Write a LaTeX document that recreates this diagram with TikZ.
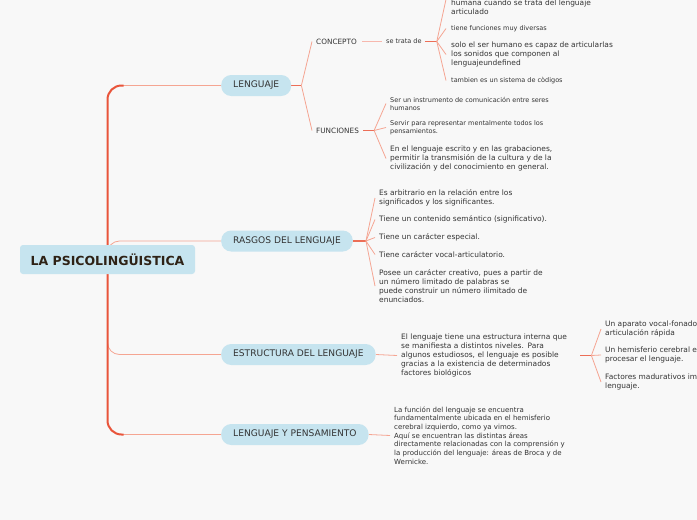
\documentclass[tikz,border=0pt]{standalone}
\usepackage{fontspec}
\setmainfont{DejaVu Sans}
\usetikzlibrary{calc,backgrounds}
\definecolor{bg}{HTML}{F8F8F8}
\definecolor{pill}{HTML}{C6E4EF}
\definecolor{trunkc}{HTML}{E9553B}
\definecolor{branchc}{HTML}{F5A592}
\definecolor{paleline}{HTML}{F7B8AE}
\definecolor{forkc}{HTML}{EC6E57}
\definecolor{txt}{HTML}{333333}
\definecolor{roottxt}{HTML}{2E2216}
\begin{document}
\begin{tikzpicture}[x=1pt,y=-1pt,
 rootbox/.style={fill=pill, rounded corners=3pt, minimum width=175pt, minimum height=29pt, inner sep=0pt, text=roottxt, font=\fontsize{12.5}{14}\selectfont\bfseries},
 mainbox/.style={fill=pill, rounded corners=10pt, minimum height=21pt, inner xsep=12pt, inner ysep=0pt, anchor=west, text=txt, font=\fontsize{9.1}{10}\selectfont},
 lbl/.style={anchor=west, inner sep=0pt, text=txt, align=left, font=\fontsize{7.45}{9}\selectfont},
 small/.style={anchor=west, inner sep=0pt, text=txt, align=left, font=\fontsize{6.5}{8}\selectfont},
 tlink/.style={draw=trunkc, line width=2pt},
 blink/.style={draw=branchc, line width=0.8pt},
 plink/.style={draw=paleline, line width=1.2pt},
 flink/.style={draw=forkc, line width=1.6pt},
 ]
\useasboundingbox (0,0) rectangle (697,520);

% main nodes
\node[rootbox] (root) at (107.5,259.5) {LA PSICOLINGÜISTICA};
\node[mainbox] (len) at (221,85.5) {LENGUAJE};
\node[mainbox] (ras) at (221,241) {RASGOS DEL LENGUAJE};
\node[mainbox] (est) at (221,354.5) {ESTRUCTURA DEL LENGUAJE};
\node[mainbox] (lyp) at (221,434.5) {LENGUAJE Y PENSAMIENTO};

% LENGUAJE subtree
\node[lbl, font=\fontsize{7.3}{9}\selectfont] (concepto) at (316,41.5) {CONCEPTO};
\node[lbl, font=\fontsize{7.3}{9}\selectfont] (funciones) at (316,130.5) {FUNCIONES};
\node[small] (setrata) at (386,41.5) {se trata de};
\node[lbl] (c1) at (451,7) {humana cuando se trata del lenguaje\\articulado};
\node[small] (c2) at (451,28.5) {tiene funciones muy diversas};
\node[lbl] (c3) at (451,54.5) {solo el ser humano es capaz de articularlas\\los sonidos que componen al\\lenguajeundefined};
\node[small] (c4) at (451,80.5) {tambien es un sistema de còdigos};

\node[small] (f1) at (390,103.5) {Ser un instrumento de comunicación entre seres\\humanos};
\node[small] (f2) at (390,127.5) {Servir para representar mentalmente todos los\\pensamientos.};
\node[lbl] (f3) at (390,158.5) {En el lenguaje escrito y en las grabaciones,\\permitir la transmisión de la cultura y de la\\civilización y del conocimiento en general.};

% RASGOS subtree
\node[lbl] (r1) at (379,198) {Es arbitrario en la relación entre los\\significados y los significantes.};
\node[lbl] (r2) at (379,219.5) {Tiene un contenido semántico (significativo).};
\node[lbl] (r3) at (379,237.5) {Tiene un carácter especial.};
\node[lbl] (r4) at (379,254.5) {Tiene carácter vocal-articulatorio.};
\node[lbl] (r5) at (379,286) {Posee un carácter creativo, pues a partir de\\un número limitado de palabras se\\puede construir un número ilimitado de\\enunciados.};

% ESTRUCTURA subtree
\node[lbl, text width=170pt] (e1) at (401,355.5) {El lenguaje tiene una estructura interna que\\se manifiesta a distintos niveles. Para\\algunos estudiosos, el lenguaje es posible\\gracias a la existencia de determinados\\factores biológicos};
\node[lbl] (s1) at (605,329) {Un aparato vocal-fonador\\articulación rápida};
\node[lbl] (s2) at (605,355) {Un hemisferio cerebral e\\procesar el lenguaje.};
\node[lbl] (s3) at (605,382) {Factores madurativos im\\lenguaje.};

% PENSAMIENTO
\node[lbl, font=\fontsize{7}{8.7}\selectfont] (p1) at (394,435.5) {La función del lenguaje se encuentra\\fundamentalmente ubicada en el hemisferio\\cerebral izquierdo, como ya vimos.\\Aquí se encuentran las distintas áreas\\directamente relacionadas con la comprensión y\\la producción del lenguaje: áreas de Broca y de\\Wernicke.};

\begin{scope}[on background layer]
\fill[bg] (0,0) rectangle (697,520);
% trunk
\coordinate (tTop) at (root.center |- len.west);
\coordinate (tBot) at (root.center |- lyp.west);
\draw[blink] ($(tTop)+(14,0)$) -- (len.west);
\draw[blink] ($(tBot)+(14,0)$) -- (lyp.west);
\draw[blink, rounded corners=12pt] (root.center) |- (ras.west);
\draw[blink, rounded corners=12pt] (root.center) |- (est.west);
\draw[tlink, rounded corners=14pt] ($(tTop)+(16,0)$) -- (tTop) -- (tBot) -- ($(tBot)+(16,0)$);

% LENGUAJE fork
\coordinate (lf) at ($(len.east)+(10,0)$);
\draw[flink, line width=1.1pt] (len.east) -- (lf);
\draw[blink] (lf) -- ($(concepto.west)+(-4,0)$);
\draw[blink] (lf) -- ($(funciones.west)+(-4,0)$);
\draw[plink] ($(concepto.east)+(5,0)$) -- ($(setrata.west)+(-4,0)$);
\coordinate (sf) at ($(setrata.east)+(15,0)$);
\draw[flink] ($(setrata.east)+(3,0)$) -- (sf);
\draw[blink] (sf) -- ($(c1.north west)+(-5,0)$);
\draw[blink] (sf) -- ($(c2.west)+(-5,0)$);
\draw[blink] (sf) -- ($(c3.west)+(-5,0)$);
\draw[blink] (sf) -- ($(c4.west)+(-5,0)$);
\coordinate (ff) at ($(funciones.east)+(15,0)$);
\draw[flink] ($(funciones.east)+(4,0)$) -- (ff);
\draw[blink] (ff) -- ($(f1.west)+(-4,0)$);
\draw[blink] (ff) -- ($(f2.west)+(-4,0)$);
\draw[blink] (ff) -- ($(f3.west)+(-4,0)$);

% RASGOS fork
\coordinate (rf) at ($(ras.east)+(13,0)$);
\draw[flink] (ras.east) -- (rf);
\foreach \n in {r1,r2,r3,r4,r5} \draw[blink] (rf) -- ($(\n.west)+(-4,0)$);

% ESTRUCTURA
\draw[blink] (est.east) -- ($(e1.west)+(-4,0)$);
\coordinate (ef) at ($(e1.east)+(20,0)$);
\draw[flink] ($(e1.east)+(9,0)$) -- (ef);
\foreach \n in {s1,s2,s3} \draw[blink] (ef) -- ($(\n.west)+(-4,0)$);

% PENSAMIENTO
\draw[blink] (lyp.east) -- ($(p1.west)+(-4,0)$);
\end{scope}
\end{tikzpicture}
\end{document}
